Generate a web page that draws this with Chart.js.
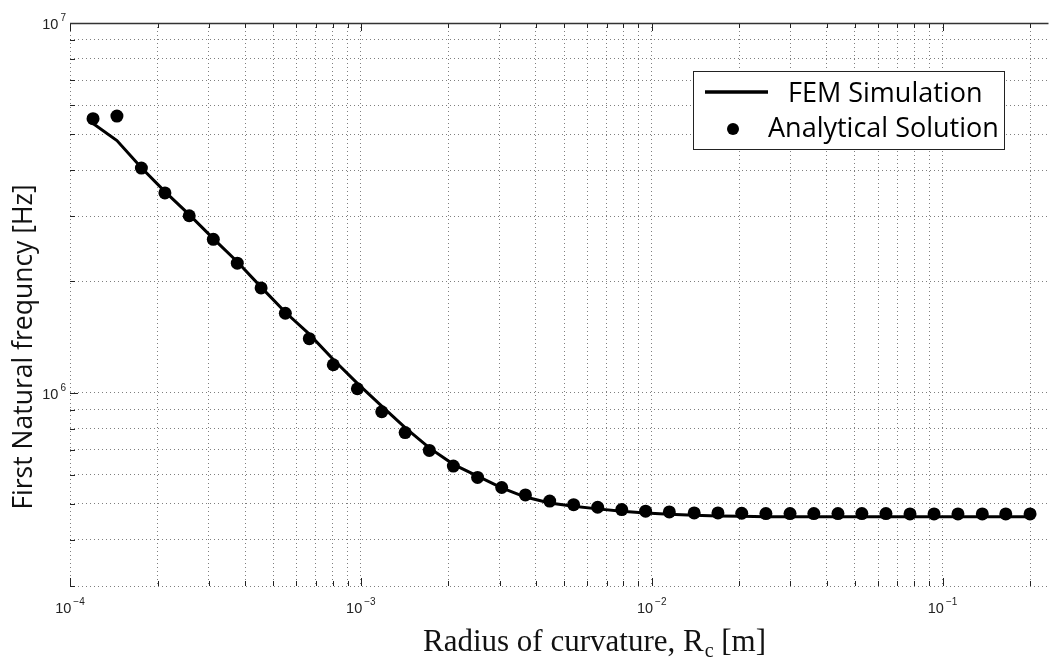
<!DOCTYPE html>
<html>
<head>
<meta charset="utf-8">
<script src="https://cdn.jsdelivr.net/npm/chart.js@4"></script>
<style>
  html, body { margin: 0; padding: 0; background: #fff; overflow: hidden; }
  #wrap { width: 1055px; height: 660px; position: relative; }
</style>
</head>
<body>
<div id="wrap"><canvas id="freqChart"></canvas></div>
<script>
// Radius of curvature [m] (same sampling for both series)
const radius = [
    1.20e-4, 1.45e-4, 1.76e-4, 2.12e-4, 2.57e-4, 3.11e-4, 3.76e-4, 4.54e-4,
    5.50e-4, 6.65e-4, 8.04e-4, 9.73e-4, 1.18e-3, 1.42e-3, 1.72e-3, 2.08e-3,
    2.52e-3, 3.05e-3, 3.68e-3, 4.46e-3, 5.39e-3, 6.52e-3, 7.89e-3, 9.53e-3,
    1.15e-2, 1.40e-2, 1.69e-2, 2.04e-2, 2.47e-2, 2.99e-2, 3.61e-2, 4.37e-2,
    5.28e-2, 6.39e-2, 7.73e-2, 9.35e-2, 0.113, 0.137, 0.165, 0.200
];

// First natural frequency [Hz]
const femFreq = [
    5.35e6, 4.81e6, 4.06e6, 3.50e6, 3.03e6, 2.61e6, 2.26e6, 1.93e6,
    1.65e6, 1.44e6, 1.23e6, 1.06e6, 9.20e5, 8.04e5, 7.09e5, 6.40e5,
    5.95e5, 5.53e5, 5.22e5, 5.03e5, 4.93e5, 4.85e5, 4.78e5, 4.73e5,
    4.69e5, 4.66e5, 4.64e5, 4.63e5, 4.62e5, 4.62e5, 4.62e5, 4.62e5,
    4.62e5, 4.62e5, 4.62e5, 4.62e5, 4.62e5, 4.62e5, 4.62e5, 4.62e5
];
const analyticFreq = [
    5.51e6, 5.60e6, 4.05e6, 3.47e6, 3.01e6, 2.60e6, 2.24e6, 1.92e6,
    1.64e6, 1.40e6, 1.19e6, 1.025e6, 8.88e5, 7.80e5, 6.98e5, 6.33e5,
    5.90e5, 5.54e5, 5.29e5, 5.09e5, 4.98e5, 4.90e5, 4.83e5, 4.78e5,
    4.76e5, 4.73e5, 4.73e5, 4.72e5, 4.71e5, 4.71e5, 4.71e5, 4.71e5,
    4.71e5, 4.71e5, 4.70e5, 4.70e5, 4.70e5, 4.70e5, 4.70e5, 4.70e5
];

// labelled decades: [value, exponent text]
const xTickLabels = [[1e-4, "\u22124"], [1e-3, "\u22123"], [1e-2, "\u22122"], [1e-1, "\u22121"]];
const yTickLabels = [[1e6, "6"], [1e7, "7"]];

const seriesNames = ["FEM Simulation", "Analytical Solution"];

const gridColor = "rgba(0,0,0,0.5)";

// drop the extra "max" tick so only 1..9 x 10^n grid lines remain
function keepWholeTicks(scale) {
    scale.ticks = scale.ticks.filter(t => {
        const m = t.value / Math.pow(10, Math.floor(Math.log10(t.value) + 1e-9));
        return Math.abs(m - Math.round(m)) < 1e-6;
    });
}

function drawPower(ctx, exp, x, y, anchor) {
    ctx.font = "14.5px 'Liberation Sans', Arial, sans-serif";
    const wb = ctx.measureText("10").width;
    ctx.font = "10px 'Liberation Sans', Arial, sans-serif";
    const we = ctx.measureText(exp).width;
    const total = wb + 2 + we;
    let x0 = anchor === "center" ? x - total / 2 : x - total;
    ctx.textAlign = "left";
    ctx.textBaseline = "alphabetic";
    ctx.font = "14.5px 'Liberation Sans', Arial, sans-serif";
    ctx.fillText("10", x0, y);
    ctx.font = "10px 'Liberation Sans', Arial, sans-serif";
    ctx.fillText(exp, x0 + wb + 2, y - 8);
}

const decorPlugin = {
    id: "decor",
    afterDatasetsDraw(chart) {
        const ctx = chart.ctx;
        const area = chart.chartArea;
        const xs = chart.scales.x;
        const ys = chart.scales.y;
        ctx.save();
        ctx.strokeStyle = "#222";
        ctx.lineWidth = 1;

        // inward tick marks
        xs.ticks.forEach(t => {
            const px = Math.round(xs.getPixelForValue(t.value)) + 0.5;
            const len = t.major ? 8 : 5;
            ctx.beginPath();
            ctx.moveTo(px, area.bottom);
            ctx.lineTo(px, area.bottom - len);
            ctx.moveTo(px, area.top);
            ctx.lineTo(px, area.top + len);
            ctx.stroke();
        });
        ys.ticks.forEach(t => {
            const py = Math.round(ys.getPixelForValue(t.value)) + 0.5;
            const len = t.major ? 8 : 5;
            ctx.beginPath();
            ctx.moveTo(area.left, py);
            ctx.lineTo(area.left + len, py);
            ctx.stroke();
        });

        // top frame line
        ctx.strokeStyle = "#333";
        ctx.lineWidth = 1.3;
        ctx.beginPath();
        ctx.moveTo(area.left, Math.round(area.top) + 0.5);
        ctx.lineTo(area.right, Math.round(area.top) + 0.5);
        ctx.stroke();

        // tick labels
        ctx.fillStyle = "#222";
        xTickLabels.forEach(([v, e]) => {
            drawPower(ctx, e, xs.getPixelForValue(v), 613, "center");
        });
        yTickLabels.forEach(([v, e]) => {
            drawPower(ctx, e, 66, ys.getPixelForValue(v) + 6, "right");
        });

        // axis titles
        ctx.fillStyle = "#111";
        ctx.textBaseline = "alphabetic";
        ctx.textAlign = "left";
        ctx.font = "31px 'Liberation Serif', 'Times New Roman', serif";
        let tx = 423;
        const ty = 651;
        ctx.fillText("Radius of curvature, R", tx, ty);
        tx += ctx.measureText("Radius of curvature, R").width;
        ctx.font = "20px 'Liberation Serif', 'Times New Roman', serif";
        ctx.fillText("c", tx + 1, ty + 6);
        tx += ctx.measureText("c").width + 1;
        ctx.font = "31px 'Liberation Serif', 'Times New Roman', serif";
        ctx.fillText(" [m]", tx, ty);

        ctx.save();
        ctx.translate(32, 347);
        ctx.rotate(-Math.PI / 2);
        ctx.textAlign = "center";
        ctx.textBaseline = "alphabetic";
        ctx.font = "26.5px 'Open Sans', sans-serif";
        ctx.fillText("First Natural frequncy [Hz]", 0, 0);
        ctx.restore();

        // legend
        ctx.fillStyle = "#fff";
        ctx.fillRect(693.5, 71.5, 311, 78);
        ctx.strokeStyle = "#222";
        ctx.lineWidth = 1;
        ctx.strokeRect(693.5, 71.5, 311, 78);
        ctx.strokeStyle = "#000";
        ctx.lineWidth = 3.5;
        ctx.beginPath();
        ctx.moveTo(705, 92);
        ctx.lineTo(768, 92);
        ctx.stroke();
        ctx.fillStyle = "#000";
        ctx.beginPath();
        ctx.arc(733, 129, 6, 0, Math.PI * 2);
        ctx.fill();
        ctx.font = "27px 'Open Sans', sans-serif";
        ctx.textAlign = "left";
        ctx.textBaseline = "middle";
        ctx.fillText(seriesNames[0], 788, 94);
        ctx.fillText(seriesNames[1], 768, 129);
        ctx.restore();
    }
};

const ctx = document.getElementById("freqChart").getContext("2d");
window.myChart = new Chart(ctx, {
    type: "scatter",
    data: {
        datasets: [
            {
                label: seriesNames[0],
                data: radius.map((r, i) => ({ x: r, y: femFreq[i] })),
                showLine: true,
                borderColor: "#000",
                borderWidth: 3,
                pointRadius: 0,
                tension: 0,
                order: 2,
            },
            {
                label: seriesNames[1],
                data: radius.map((r, i) => ({ x: r, y: analyticFreq[i] })),
                showLine: false,
                backgroundColor: "#000",
                borderWidth: 0,
                pointRadius: 6.5,
                order: 1,
            },
        ],
    },
    options: {
        responsive: true,
        maintainAspectRatio: false,
        animation: false,
        devicePixelRatio: 1,
        layout: { padding: { top: 23, left: 0, right: 0, bottom: 0 } },
        plugins: { legend: { display: false }, tooltip: { enabled: false } },
        scales: {
            x: {
                type: "logarithmic",
                min: 1e-4,
                max: 0.2314,
                ticks: { display: false },
                afterBuildTicks: keepWholeTicks,
                afterFit: s => { s.height = 74; },
                grid: { color: gridColor, lineWidth: 1, drawTicks: false },
                border: { display: false, dash: [1, 3] },
            },
            y: {
                type: "logarithmic",
                min: 3e5,
                max: 1e7,
                ticks: { display: false },
                afterBuildTicks: keepWholeTicks,
                afterFit: s => { s.width = 70; },
                grid: { color: gridColor, lineWidth: 1, drawTicks: false },
                border: { display: false, dash: [1, 3] },
            },
        },
    },
    plugins: [decorPlugin],
});
</script>
</body>
</html>
